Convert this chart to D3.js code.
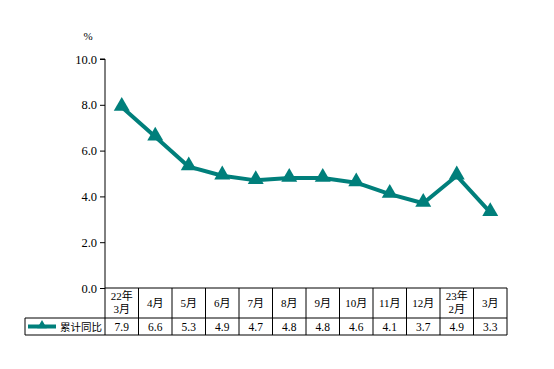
<!DOCTYPE html>
<meta charset="utf-8">
<style>
body { margin: 0; background: #fff; }
</style>
<body>
<script src="https://d3js.org/d3.v7.min.js"></script>
<script>

var months = ["22年\n3月", "4月", "5月", "6月", "7月", "8月", "9月", "10月", "11月", "12月", "23年\n2月", "3月"];
var values = [7.9, 6.6, 5.3, 4.9, 4.7, 4.8, 4.8, 4.6, 4.1, 3.7, 4.9, 3.3];
var yTicks = [0, 2, 4, 6, 8, 10];
var seriesName = "累计同比";

var W = 554, H = 369;
var teal = "#007f7b";
var serif = "'Liberation Serif', 'Times New Roman', serif";
var mixed = "'Liberation Serif', 'Noto Sans CJK SC', serif";

var svg = d3.select("body").append("svg")
    .attr("width", W)
    .attr("height", H);

var x = d3.scaleBand().domain(months).range([105, 507]);
var y = d3.scaleLinear().domain([0, 10]).range([288, 59]);

// y axis
var yAxis = svg.append("g")
    .attr("transform", "translate(105,0)")
    .call(d3.axisLeft(y).tickValues(yTicks).tickSize(5).tickFormat(d3.format(".1f")));
yAxis.attr("font-family", null).attr("font-size", null);
yAxis.select(".domain").attr("stroke", "#000").attr("d", "M-5," + y(10) + "H0V" + y(0));
yAxis.selectAll(".tick line").attr("stroke", "#000");
yAxis.selectAll(".tick text").attr("x", -8).attr("dy", "0.32em")
    .style("font-family", serif).style("font-size", "12.5px").attr("fill", "#000");

svg.append("text").attr("x", 88).attr("y", 40)
    .attr("text-anchor", "middle")
    .style("font-family", serif).style("font-size", "11px")
    .text("%");

// table
var rowTop = 288, rowMid = 318, rowBot = 335;
var tbl = svg.append("g").attr("stroke", "#000").attr("stroke-width", 1).attr("fill", "none");
tbl.append("line").attr("x1", 105).attr("x2", 507).attr("y1", rowTop).attr("y2", rowTop);
tbl.append("line").attr("x1", 25).attr("x2", 507).attr("y1", rowMid).attr("y2", rowMid);
tbl.append("line").attr("x1", 25).attr("x2", 507).attr("y1", rowBot).attr("y2", rowBot);
tbl.append("line").attr("x1", 25).attr("x2", 25).attr("y1", rowMid).attr("y2", rowBot);
months.forEach(function(m) {
  tbl.append("line").attr("x1", x(m)).attr("x2", x(m)).attr("y1", rowTop).attr("y2", rowBot);
});
tbl.append("line").attr("x1", 507).attr("x2", 507).attr("y1", rowTop).attr("y2", rowBot);

// category labels
months.forEach(function(m) {
  var lines = m.split("\n");
  var cx = x(m) + x.bandwidth() / 2;
  var t = svg.append("text").attr("text-anchor", "middle")
      .style("font-family", mixed).style("font-size", "11px");
  if (lines.length === 1) {
    t.append("tspan").attr("x", cx).attr("y", 307).text(lines[0]);
  } else {
    t.append("tspan").attr("x", cx).attr("y", 300).text(lines[0]);
    t.append("tspan").attr("x", cx).attr("y", 313).text(lines[1]);
  }
});

// value row
svg.selectAll(".val").data(values).enter().append("text")
    .attr("text-anchor", "middle")
    .style("font-family", serif).style("font-size", "11.5px")
    .attr("x", function(d, i) { return x(months[i]) + x.bandwidth() / 2; })
    .attr("y", 330.5)
    .text(function(d) { return d3.format(".1f")(d); });

// legend
svg.append("line").attr("x1", 28).attr("x2", 56).attr("y1", 326.5).attr("y2", 326.5)
    .attr("stroke", teal).attr("stroke-width", 4);
svg.append("path").attr("d", d3.symbol(d3.symbolTriangle, 40)())
    .attr("transform", "translate(42,325.5)").attr("fill", teal);
svg.append("text").attr("x", 60).attr("y", 330.5)
    .style("font-family", "'Noto Sans CJK SC', sans-serif").style("font-size", "10.5px")
    .text(seriesName);

// line
var line = d3.line()
    .x(function(d, i) { return x(months[i]) + x.bandwidth() / 2; })
    .y(function(d) { return y(d); });

svg.append("path").datum(values)
    .attr("d", line)
    .attr("fill", "none")
    .attr("stroke", teal)
    .attr("stroke-width", 4)
    .attr("stroke-linejoin", "round");

svg.selectAll(".pt").data(values).enter().append("path")
    .attr("d", d3.symbol(d3.symbolTriangle, 110)())
    .attr("transform", function(d, i) {
      return "translate(" + (x(months[i]) + x.bandwidth() / 2) + "," + (y(d) - 1) + ")";
    })
    .attr("fill", teal);

</script>
</body>
